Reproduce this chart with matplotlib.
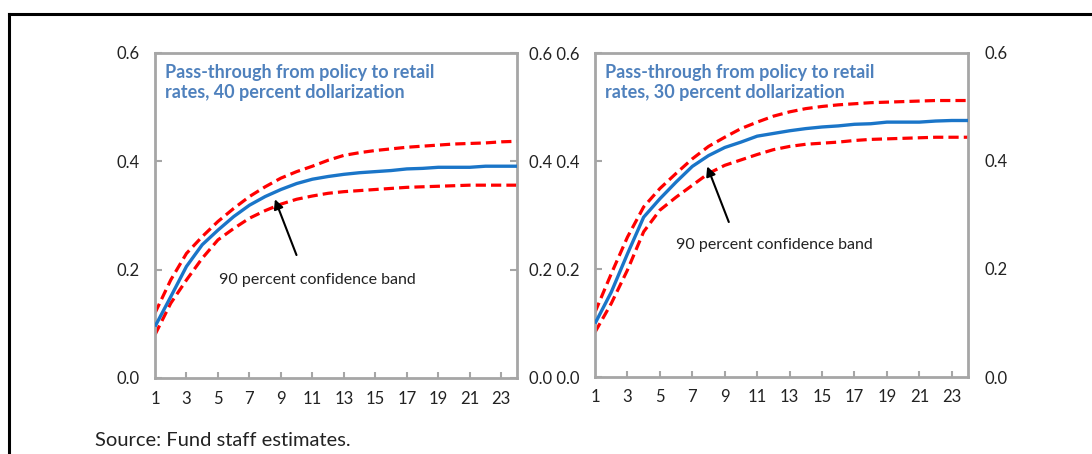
import numpy as np
import matplotlib.pyplot as plt
from matplotlib.lines import Line2D

plt.rcParams['font.family'] = ['Lato', 'DejaVu Sans']

months = np.arange(1, 25)

# 40 percent dollarization
mid_40 = [0.095, 0.150, 0.206, 0.246, 0.273, 0.298, 0.319, 0.335, 0.348, 0.359,
          0.367, 0.372, 0.376, 0.379, 0.381, 0.383, 0.386, 0.387, 0.389, 0.389,
          0.389, 0.391, 0.391, 0.391]
hi_40 = [0.120, 0.181, 0.230, 0.261, 0.289, 0.313, 0.335, 0.353, 0.369, 0.381,
         0.391, 0.402, 0.411, 0.416, 0.420, 0.423, 0.426, 0.428, 0.430, 0.432,
         0.433, 0.434, 0.436, 0.437]
lo_40 = [0.080, 0.138, 0.181, 0.221, 0.255, 0.276, 0.295, 0.309, 0.321, 0.330,
         0.336, 0.341, 0.344, 0.346, 0.348, 0.350, 0.352, 0.353, 0.354, 0.355,
         0.356, 0.356, 0.356, 0.356]

# 30 percent dollarization
mid_30 = [0.099, 0.157, 0.228, 0.296, 0.330, 0.361, 0.390, 0.410, 0.425, 0.435,
          0.446, 0.451, 0.456, 0.460, 0.463, 0.465, 0.468, 0.469, 0.472, 0.472,
          0.472, 0.474, 0.475, 0.475]
hi_30 = [0.120, 0.191, 0.259, 0.315, 0.349, 0.377, 0.404, 0.427, 0.444, 0.460,
         0.472, 0.483, 0.491, 0.497, 0.501, 0.504, 0.506, 0.508, 0.509, 0.510,
         0.511, 0.512, 0.512, 0.512]
lo_30 = [0.083, 0.136, 0.198, 0.269, 0.309, 0.333, 0.355, 0.377, 0.392, 0.402,
         0.412, 0.421, 0.427, 0.431, 0.433, 0.435, 0.438, 0.440, 0.441, 0.442,
         0.443, 0.444, 0.444, 0.444]

yticks = [0.0, 0.2, 0.4, 0.6]
xticks = np.arange(1, 24, 2)

BLUE = '#1a75c8'
RED = '#ff0000'
TITLE = '#4f81bd'
GREY = '#a6a6a6'
TXT = '#222222'

fig = plt.figure(figsize=(10.92, 4.54), dpi=100)

# outer frame (top and left edges)
fig.add_artist(Line2D([9/1092, 1], [1 - 14/454, 1 - 14/454], color='black', lw=2.2))
fig.add_artist(Line2D([9/1092, 9/1092], [0, 1 - 14/454], color='black', lw=2.2))


def panel(rect, mid, hi, lo, title, txt_xy, arrow_from, arrow_to, ylabfmt):
    ax = fig.add_axes(rect)
    ax.plot(months, mid, color=BLUE, lw=2.4, solid_capstyle='butt', zorder=3)
    for s in (hi, lo):
        ax.plot(months, s, color=RED, lw=2.3, dashes=(3.2, 1.6), zorder=2)
    ax.set_xlim(1, 24)
    ax.set_ylim(0, 0.6)
    ax.set_yticks(yticks)
    ax.set_yticklabels([ylabfmt.format(v) for v in yticks])
    ax.set_xticks(xticks)
    ax.set_xticklabels([str(v) for v in xticks])
    for sp in ax.spines.values():
        sp.set_color(GREY)
        sp.set_linewidth(2)
    ax.tick_params(axis='both', direction='in', color=GREY, width=1.5, length=4,
                   labelsize=12, labelcolor=TXT)
    ax.tick_params(axis='y', right=True, length=5, pad=11)
    ax.tick_params(axis='x', pad=9)
    # no tick mark on the corner
    ax.xaxis.get_major_ticks()[0].tick1line.set_visible(False)
    ax.text(0.028, 0.965, title, transform=ax.transAxes, ha='left', va='top',
            fontsize=13, fontweight='bold', color=TITLE, linespacing=1.2)
    ax.text(txt_xy[0], txt_xy[1], '90 percent confidence band', ha='left',
            va='center', fontsize=11.5, color=TXT)
    ax.annotate('', xy=arrow_to, xytext=arrow_from,
                arrowprops=dict(arrowstyle='-|>', color='black', lw=1.5,
                                mutation_scale=14, shrinkA=0, shrinkB=0))
    return ax


panel([155/1092, 1 - 378/454, 362/1092, 325/454], mid_40, hi_40, lo_40,
      'Pass-through from policy to retail\nrates, 40 percent dollarization',
      (5.08, 0.181), (9.99, 0.227), (8.62, 0.33), '{:.1f}')

ax2 = panel([595/1092, 1 - 377/454, 373/1092, 324/454], mid_30, hi_30, lo_30,
            'Pass-through from policy to retail\nrates, 30 percent dollarization',
            (5.97, 0.244), (9.25, 0.287), (7.92, 0.39), '{0:.1f} {0:.1f}')

# secondary value axis on the right
twin = ax2.twinx()
twin.set_ylim(0, 0.6)
twin.set_yticks(yticks)
twin.set_yticklabels(['{:.1f}'.format(v) for v in yticks])
twin.tick_params(axis='y', length=0, labelsize=12, labelcolor=TXT, pad=12)
for sp in twin.spines.values():
    sp.set_visible(False)

fig.text(95/1092, 1 - 441/454, 'Source: Fund staff estimates.', ha='left',
         va='center', fontsize=14.5, color=TXT)

fig.savefig('out.png', dpi=100)
